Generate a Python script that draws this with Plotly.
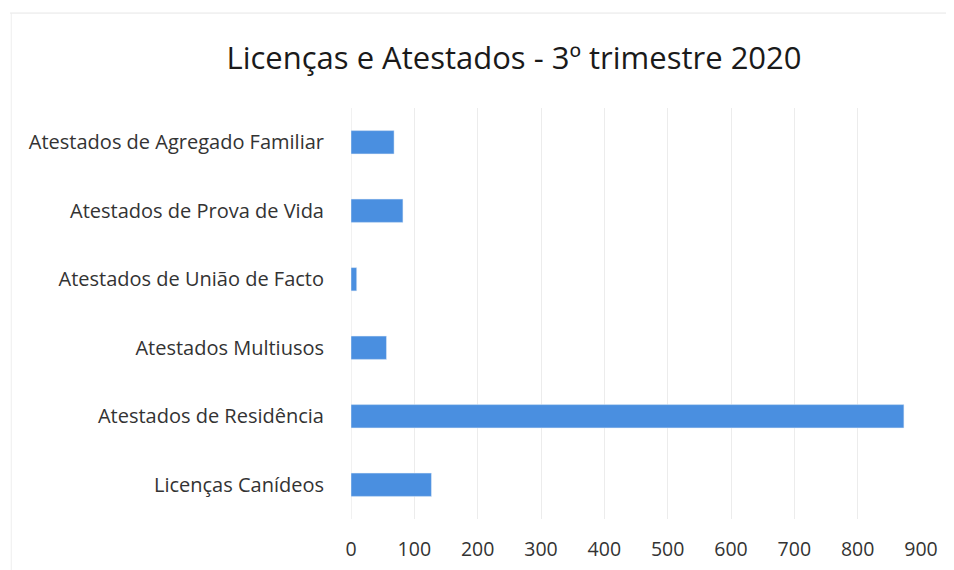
import plotly.graph_objects as go

categories = [
    "Atestados de Agregado Familiar",
    "Atestados de Prova de Vida",
    "Atestados de União de Facto",
    "Atestados Multiusos",
    "Atestados de Residência",
    "Licenças Canídeos",
]
values = [68, 82, 9, 56, 873, 127]
x_ticks = [0, 100, 200, 300, 400, 500, 600, 700, 800, 900]

OFF = 8  # browser body margin

fig = go.Figure(go.Bar(
    x=values, y=categories, orientation="h",
    marker=dict(color="#4a8fe0"), width=0.34,
))

fig.update_layout(
    width=954, height=570,
    paper_bgcolor="white", plot_bgcolor="white",
    margin=dict(l=351 - OFF, r=33 + OFF, t=108 - OFF, b=51 + OFF),
    font=dict(family="Open Sans, sans-serif", color="#222"),
    title=dict(text="Licenças e Atestados - 3º trimestre 2020",
               x=(514 - OFF)/954, xref="container", xanchor="center",
               y=1-(58 - OFF)/570, yref="container", yanchor="middle",
               font=dict(size=31, color="#1a1a1a")),
    showlegend=False,
)
fig.update_xaxes(range=[0, 900], tickvals=x_ticks, showgrid=True,
                 gridcolor="#ececec", gridwidth=1, zeroline=False,
                 ticks="outside", ticklen=13, tickcolor="rgba(0,0,0,0)",
                 tickfont=dict(size=19.5, color="#333"), showline=False)
fig.update_yaxes(autorange="reversed", showgrid=False,
                 ticks="outside", ticklen=22, tickcolor="rgba(0,0,0,0)",
                 tickfont=dict(size=20, color="#333"), showline=False)
fig.add_shape(type="line", xref="x", yref="paper", x0=0, x1=0, y0=0, y1=1,
              line=dict(color="#e4e4e4", width=1), layer="below")
# faint chart-area border (top and left)
fig.add_shape(type="line", xref="paper", yref="paper",
              x0=-0.598, x1=1.06, y0=1.231, y1=1.231,
              line=dict(color="#e6e6e6", width=1))
fig.add_shape(type="line", xref="paper", yref="paper",
              x0=-0.596, x1=-0.596, y0=1.231, y1=-0.13,
              line=dict(color="#eeeeee", width=1))

fig.write_html("out.html")
